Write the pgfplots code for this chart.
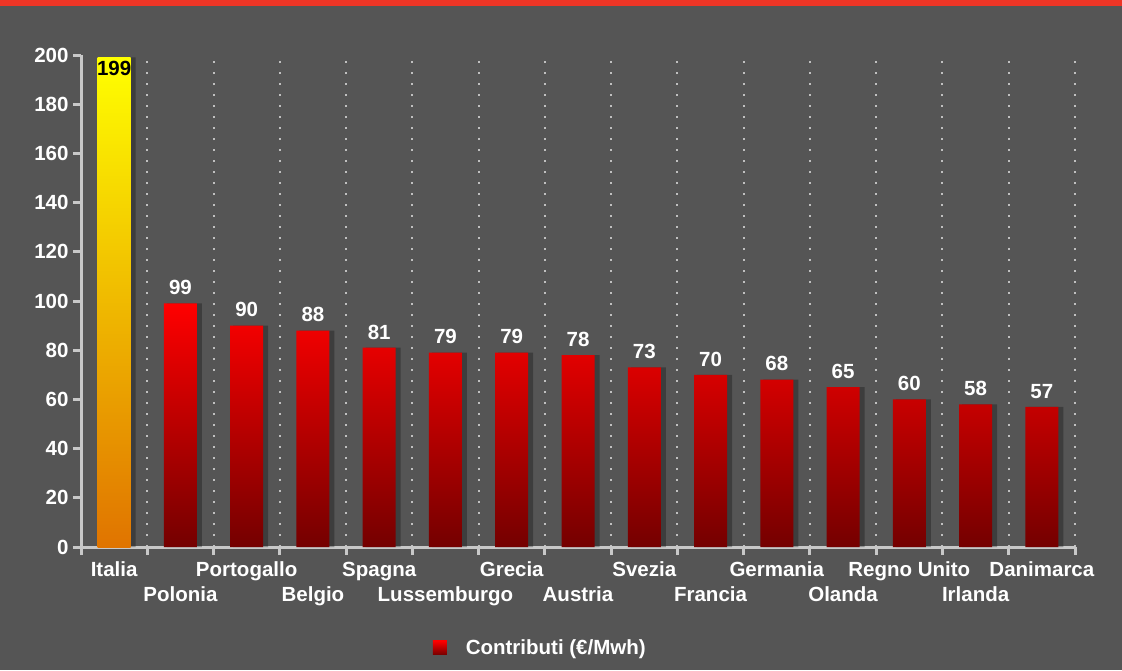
\documentclass[border=0pt]{standalone}
\usepackage{pgfplots}
\pgfplotsset{compat=1.18}
\usepackage{fontspec}
\setmainfont{Liberation Sans}

\definecolor{bg}{HTML}{555555}
\definecolor{strip}{HTML}{EE3526}
\definecolor{axisgray}{HTML}{C8C8C8}
\definecolor{gridgray}{HTML}{C0C0C0}
\definecolor{redtop}{HTML}{FF0000}
\definecolor{redbot}{HTML}{740000}
\definecolor{yeltop}{HTML}{FFFF00}
\definecolor{yelbot}{HTML}{E07400}

\newcommand{\lab}{\fontsize{20.5}{23}\selectfont\bfseries}

\begin{document}
\begin{tikzpicture}
\useasboundingbox (0,0) rectangle (1122pt,-670pt);
\fill[bg] (0,0) rectangle (1122pt,-670pt);
\fill[strip] (0,0) rectangle (1122pt,-5.5pt);

\begin{axis}[
    at={(81pt,-547pt)}, anchor=south west,
    scale only axis,
    width=994pt, height=492pt,
    xmin=-0.5, xmax=14.5,
    ymin=0, ymax=200,
    axis x line=bottom, axis y line=left,
    axis line style={-, line width=3pt, color=axisgray},
    tick style={line width=3pt, color=axisgray},
    tick align=outside,
    major tick length=8pt,
    minor tick length=8pt,
    ytick={0,20,...,200},
    xtick={0,2,...,14},
    xticklabels={Italia,Portogallo,Spagna,Grecia,Svezia,Germania,Regno Unito,Danimarca},
    every major x tick/.append style={draw=none},
    extra x ticks={1,3,...,13},
    extra x tick labels={Polonia,Belgio,Lussemburgo,Austria,Francia,Olanda,Irlanda},
    extra x tick style={major tick length=0pt, xticklabel style={yshift=-33pt}},
    minor xtick={-0.5,0.5,...,14.5},
    xminorgrids=true,
    minor grid style={draw=gridgray, line width=2pt, dash pattern=on 2pt off 9pt},
    /pgf/number format/assume math mode=true,
    ticklabel style={font=\lab, text=white},
    xticklabel style={yshift=-3pt, text height=15pt},
    yticklabel style={xshift=-1pt},
    ybar, bar width=33pt, bar shift=0pt,
    clip=false,
    legend style={at={(0.462,-0.205)}, anchor=center, draw=none, fill=none,
        text=white, font=\lab},
    legend image code/.code={\shade[top color=redtop, bottom color=redbot]
        (0pt,-7pt) rectangle (14pt,7pt); \path (31pt,0pt);},
]
% shadows of the bars
\addplot[draw=none, fill=black, fill opacity=0.28, bar shift=4pt, bar width=35pt, forget plot]
    coordinates {
    (0,199) (1,99) (2,90) (3,88) (4,81) (5,79) (6,79) (7,78)
    (8,73) (9,70) (10,68) (11,65) (12,60) (13,58) (14,57)
    };
\addplot[draw=none, top color=yeltop, bottom color=yelbot,
    nodes near coords,
    nodes near coords style={font=\lab, text=black, anchor=north, yshift=0pt},
    forget plot]
    coordinates {(0,199)};
\addplot[draw=none, top color=redtop, bottom color=redbot,
    nodes near coords,
    nodes near coords style={font=\lab, text=white, anchor=south, yshift=5pt}]
    coordinates {
    (1,99) (2,90) (3,88) (4,81) (5,79) (6,79) (7,78)
    (8,73) (9,70) (10,68) (11,65) (12,60) (13,58) (14,57)
    };
\addlegendentry{Contributi (€/Mwh)}
\end{axis}
\end{tikzpicture}
\end{document}
